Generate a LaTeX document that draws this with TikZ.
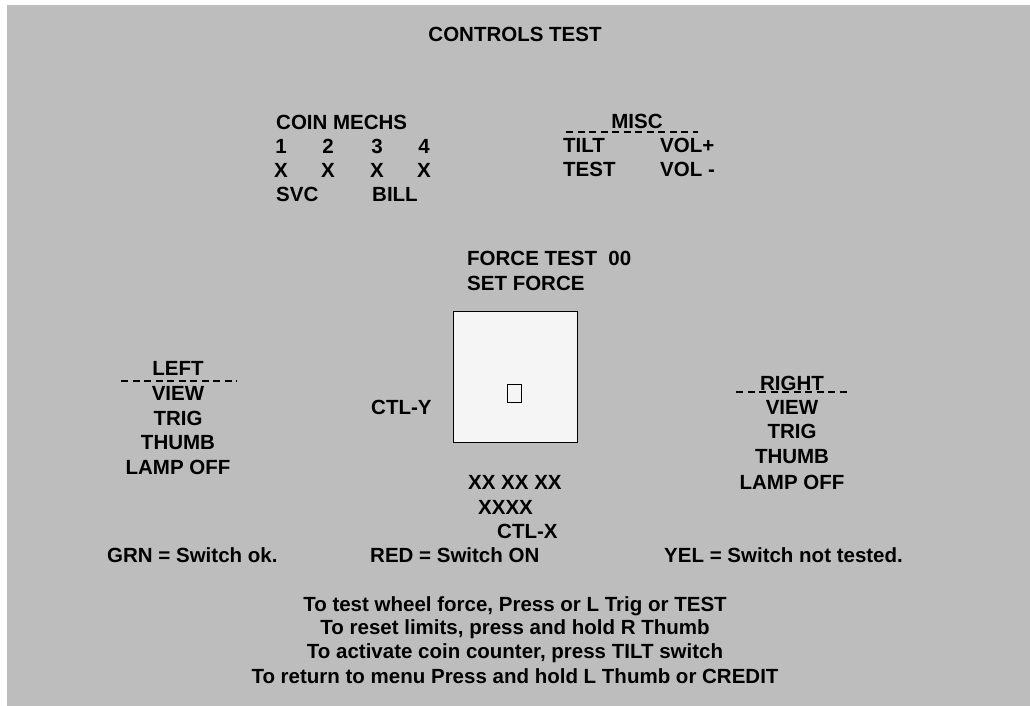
\documentclass[tikz,border=0pt]{standalone}
\usepackage{fontspec}
\setmainfont{Liberation Sans}
\usepackage{tikz}
\usetikzlibrary{positioning}
\definecolor{screen}{rgb}{0.74, 0.74, 0.74}
\definecolor{panel}{rgb}{0.96, 0.96, 0.96}
\tikzset{
  txt/.style={font=\bfseries\fontsize{20.5}{23}\selectfont, inner sep=0pt, text=black},
  dashrule/.style={line width=1.5pt, dash pattern=on 7pt off 4.5pt}
}

\begin{document}
\begin{tikzpicture}[x=1pt, y=-1pt]
      \useasboundingbox (0,0) rectangle (1030,706);
      \fill[white] (0,0) rectangle (1030,706);
      \fill[screen] (7,5) rectangle (1030,706);
      \node[txt] (title) at (515,34) {CONTROLS TEST};
      % coin mechs
      \node[txt, anchor=west] (coin) at (276,122) {COIN MECHS};
      \foreach \x/\n in {281/1,328/2,377/3,424/4} {
        \node[txt] (num\n) at (\x,146) {\n};
        \node[txt] (sw\n) at (\x,170) {X};
      }
      \node[txt, anchor=west] (svc) at (276,194) {SVC};
      \node[txt, anchor=west] (bill) at (372,194) {BILL};
      % misc
      \node[txt] (misc) at (637,121) {MISC};
      \draw[dashrule] (566,132) -- (698,132);
      \node[txt, anchor=west] (tilt) at (563,145) {TILT};
      \node[txt, anchor=west] (volup) at (660,145) {VOL+};
      \node[txt, anchor=west] (test) at (563,169) {TEST};
      \node[txt, anchor=west] (voldn) at (660,169) {VOL -};
      % force
      \node[txt, anchor=west] (force) at (467,258) {FORCE TEST\ \ 00};
      \node[txt, anchor=west] (setforce) at (467,283) {SET FORCE};
      \draw[line width=1pt, fill=panel] (453,311) rectangle (577,442);
      \draw[line width=0.8pt] (507,384) rectangle (521,402);
      \node[txt, anchor=west] (ctly) at (371,407) {CTL-Y};
      \node[txt, anchor=west] (xx) at (468,482) {XX XX XX};
      \node[txt, anchor=west] (xxxx) at (478,507) {XXXX};
      \node[txt, anchor=west] (ctlx) at (497,531) {CTL-X};
      % left
      \node[txt] (left) at (178,368) {LEFT};
      \draw[dashrule] (121,381) -- (237,381);
      \foreach \y/\t/\k in {393/VIEW/a,418/TRIG/b,443/THUMB/c,467/LAMP OFF/d}
        \node[txt] (left\k) at (178,\y) {\t};
      % right
      \node[txt] (right) at (792,383) {RIGHT};
      \draw[dashrule] (736,392) -- (848,392);
      \foreach \y/\t/\k in {407/VIEW/a,431/TRIG/b,457/THUMB/c,482/LAMP OFF/d}
        \node[txt] (right\k) at (792,\y) {\t};
      % legend
      \node[txt, anchor=west] (grn) at (107,555) {GRN = Switch ok.};
      \node[txt, anchor=west] (red) at (370,555) {RED = Switch ON};
      \node[txt, anchor=west] (yel) at (664,555) {YEL = Switch not tested.};
      % help
      \node[txt] (helpa) at (515,606) {To test wheel force, Press or L Trig or TEST};
      \node[txt] (helpb) at (515,629) {To reset limits, press and hold R Thumb};
      \node[txt] (helpc) at (515,653) {To activate coin counter, press TILT switch};
      \node[txt] (helpd) at (515,676) {To return to menu Press and hold L Thumb or CREDIT};
    \end{tikzpicture}
\end{document}
